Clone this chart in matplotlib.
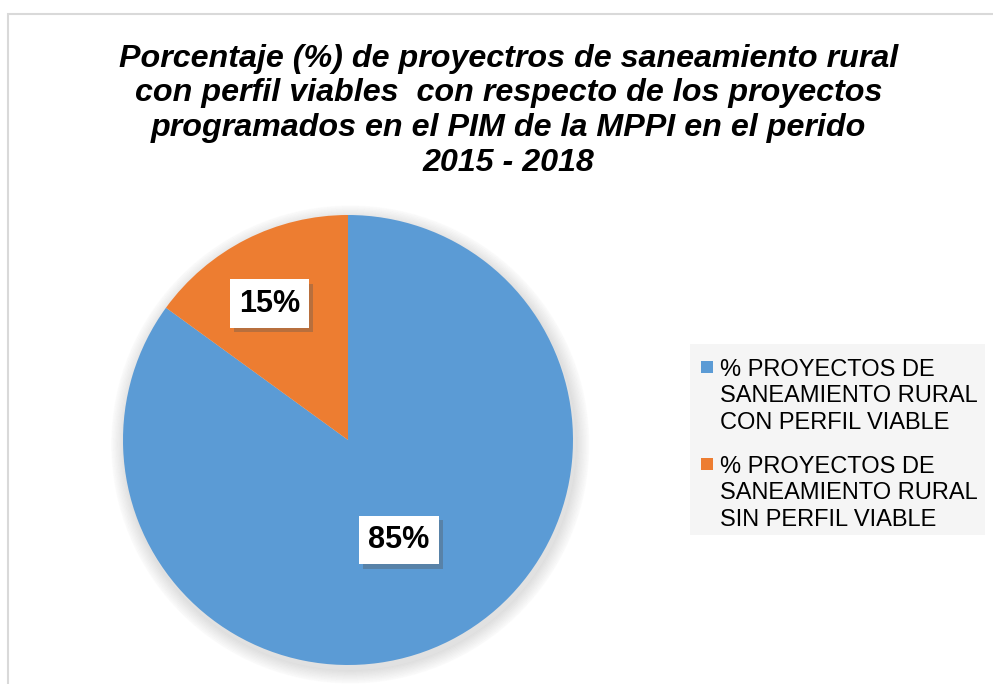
import matplotlib
matplotlib.use("Agg")
import matplotlib.pyplot as plt
import matplotlib.patheffects as pe
from matplotlib.patches import Rectangle, Circle
import numpy as np

plt.rcParams["font.family"] = ["Liberation Sans", "DejaVu Sans"]

TITLE = ("Porcentaje (%) de proyectros de saneamiento rural\n"
         "con perfil viables  con respecto de los proyectos\n"
         "programados en el PIM de la MPPI en el perido\n"
         "2015 - 2018")
LABELS = ["% PROYECTOS DE\nSANEAMIENTO RURAL\nCON PERFIL VIABLE",
          "% PROYECTOS DE\nSANEAMIENTO RURAL\nSIN PERFIL VIABLE"]
VALUES = [85, 15]
COLORS = ["#5B9BD5", "#ED7D31"]
LABEL_DIST = [0.5, 0.7]
LABEL_NUDGE = [0, 3]  # degrees, label placement tweak

W, H = 993, 684
fig = plt.figure(figsize=(W / 100, H / 100), dpi=100)

# chart frame (right and bottom edges fall outside the image)
fig.patches.append(Rectangle((8 / W, -0.02), 1.0, 1.02 - 14 / H, transform=fig.transFigure,
                             fill=False, edgecolor="#d9d9d9", linewidth=1.5))

fig.text(0.512, 0.838, TITLE, ha="center", va="center", fontsize=23.2,
         fontweight="bold", fontstyle="italic", linespacing=1.21)

cx, cy, r = 348, 440, 225
ax = fig.add_axes([(cx - r) / W, (H - cy - r) / H, 2 * r / W, 2 * r / H])

# soft shadow under the pie
for i in range(10):
    ax.add_patch(Circle((0.01, -0.02), 1.0 + 0.006 * (10 - i), color="black",
                        alpha=0.012, zorder=0, clip_on=False))

wedges, _ = ax.pie(VALUES, colors=COLORS, startangle=90, counterclock=False,
                   radius=1.0, wedgeprops=dict(linewidth=0))
for w in wedges:
    w.set_zorder(2)
ax.set_xlim(-1, 1)
ax.set_ylim(-1, 1)
ax.set_aspect("equal")
ax.axis("off")

total = sum(VALUES)
for w, v, d, nudge in zip(wedges, VALUES, LABEL_DIST, LABEL_NUDGE):
    ang = np.deg2rad((w.theta1 + w.theta2) / 2 + nudge)
    t = ax.text(d * np.cos(ang), d * np.sin(ang), f"{v / total * 100:.0f}%",
                ha="center", va="center", fontsize=22, fontweight="bold", zorder=5,
                bbox=dict(boxstyle="square,pad=0.3", facecolor="white", edgecolor="none"))
    t.get_bbox_patch().set_path_effects([
        pe.withSimplePatchShadow(offset=(3, -3), shadow_rgbFace="#555555", alpha=0.35)])

# legend box drawn by hand so the swatches sit on the first text line
lx0, ly0, lx1, ly1 = 690, 344, 985, 535
fig.patches.append(Rectangle((lx0 / W, 1 - ly1 / H), (lx1 - lx0) / W, (ly1 - ly0) / H,
                             transform=fig.transFigure, facecolor="#f5f5f5",
                             edgecolor="none", zorder=0))
for i, (lab, col) in enumerate(zip(LABELS, COLORS)):
    top = 359 + i * 97
    fig.patches.append(Rectangle((701 / W, 1 - (top + 14) / H), 12 / W, 12 / H,
                                 transform=fig.transFigure, facecolor=col,
                                 edgecolor="none", zorder=2))
    fig.text(720 / W, 1 - top / H, lab, ha="left", va="top", fontsize=17,
             linespacing=1.26, zorder=3)

fig.savefig("out.png", dpi=100)
